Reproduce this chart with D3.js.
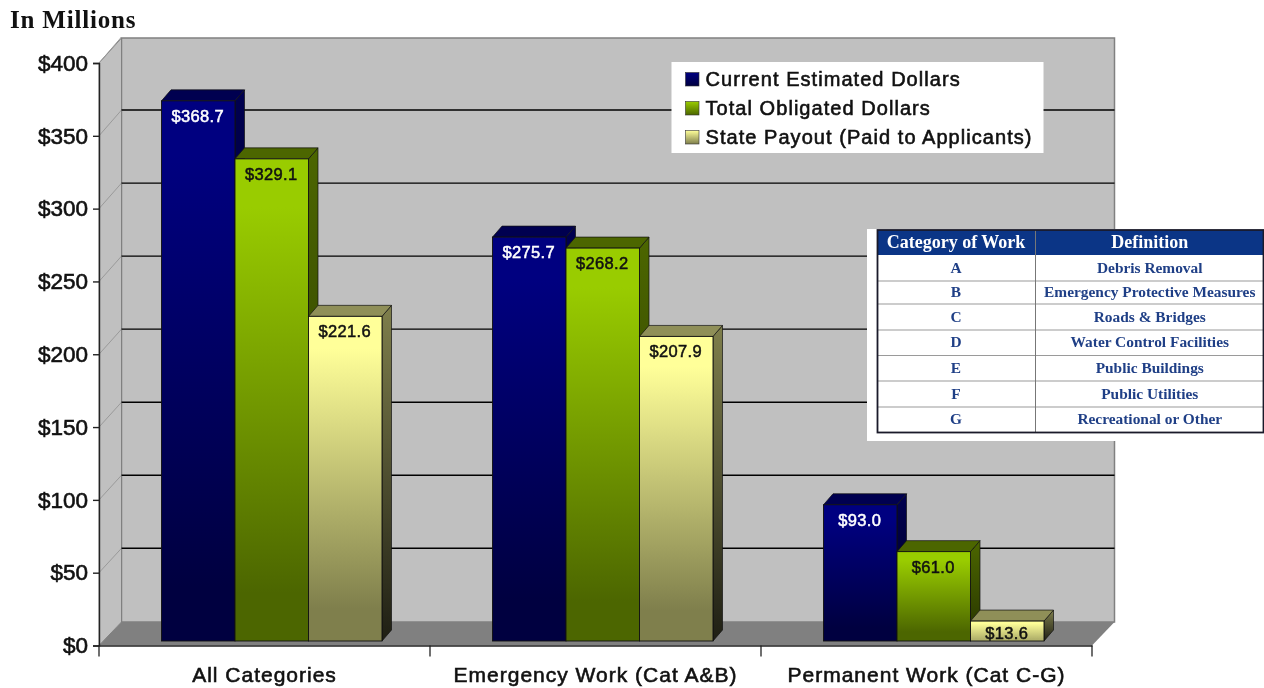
<!DOCTYPE html>
<html><head><meta charset="utf-8">
<script src="https://cdnjs.cloudflare.com/ajax/libs/d3/7.8.5/d3.min.js"></script>
<style>
html,body{margin:0;padding:0;background:#fff;overflow:hidden}
svg{display:block;filter:blur(.45px)}
text{font-family:"Liberation Sans",Arial,sans-serif}
.serif{font-family:"Liberation Serif","Times New Roman",serif;font-weight:bold}
</style></head><body>
<svg id="c" width="1264" height="688"></svg>
<script>
const categories=["All Categories","Emergency Work (Cat A&B)","Permanent Work (Cat C-G)"];
const seriesNames=["Current Estimated Dollars","Total Obligated Dollars","State Payout (Paid to Applicants)"];
const currentEstimated=[368.7,275.7,93.0];
const totalObligated=[329.1,268.2,61.0];
const statePayout=[221.6,207.9,13.6];
const yTicks=[0,50,100,150,200,250,300,350,400];
const tableHeader=["Category of Work","Definition"];
const workCodes=["A","B","C","D","E","F","G"];
const workDefinitions=["Debris Removal","Emergency Protective Measures","Roads & Bridges","Water Control Facilities","Public Buildings","Public Utilities","Recreational or Other"];
const seriesValues=[currentEstimated,totalObligated,statePayout];
const palette=[
 {top:"#000080",bot:"#000040",side:"#000050",sideBot:"#00001e",cap:"#000050",ink:"#fff"},
 {top:"#99cc00",bot:"#4c6600",side:"#4c6600",sideBot:"#263300",cap:"#4c6600",ink:"#111"},
 {top:"#ffff99",bot:"#7f7f4c",side:"#7f7f4c",sideBot:"#1f1f14",cap:"#8f8f58",ink:"#111"}];

const svg=d3.select("#c");
const defs=svg.append("defs");
const xFront=[99,1092], yFront=[645.5,63], yBack=[621.3,37], depthX=22.5;
const yF=d3.scaleLinear().domain([0,400]).range(yFront);
const yB=d3.scaleLinear().domain([0,400]).range(yBack);
const yBar=d3.scaleLinear().domain([0,400]).range([641,55]);
const x0=d3.scaleBand().domain(categories).range(xFront);
const x1=d3.scaleBand().domain(d3.range(3)).range([62.5,283]);

// walls
const wall="#c0c0c0";
svg.append("path").attr("d",`M${xFront[0]+depthX},38H${xFront[1]+depthX}V622H${xFront[0]+depthX}Z`).attr("fill",wall).attr("stroke","#808080").attr("stroke-width",1.5);
svg.append("path").attr("d",`M${xFront[0]},${yFront[1]}L${xFront[0]+depthX},38V622L${xFront[0]},${yFront[0]}Z`).attr("fill",wall).attr("stroke","#808080").attr("stroke-width",1);
svg.append("path").attr("d",`M${xFront[0]},${yFront[0]}L${xFront[0]+depthX},622H${xFront[1]+depthX}L${xFront[1]},${yFront[0]}Z`).attr("fill","#808080");
// gridlines
yTicks.filter(d=>d>0).forEach(d=>{
  svg.append("line").attr("x1",xFront[0]).attr("y1",yF(d)).attr("x2",xFront[0]+depthX).attr("y2",yB(d)).attr("stroke","#9a9a9a");
  if(d<400) svg.append("line").attr("x1",xFront[0]+depthX).attr("x2",xFront[1]+depthX).attr("y1",yB(d)).attr("y2",yB(d)).attr("stroke","#000").attr("stroke-width",1.4);
});

// bars
function grad(id,stops){
  const g=defs.append("linearGradient").attr("id",id).attr("x1",0).attr("y1",0).attr("x2",0).attr("y2",1);
  stops.forEach(s=>g.append("stop").attr("offset",s[0]).attr("stop-color",s[1]));
  return `url(#${id})`;
}
const dx=9.5, dy=11;
categories.forEach((cat,ci)=>{
  seriesValues.forEach((vals,si)=>{
    const v=vals[ci], p=palette[si];
    const xl=x0(cat)+x1(si), w=x1.bandwidth(), yt=yBar(v), yb=yBar(0);
    const g=svg.append("g").attr("class","bar");
    const sf=grad(`s${ci}${si}`,[[0,p.side],[1,p.sideBot]]);
    const mix=d3.interpolateRgb(p.top,p.bot);
    const ff=grad(`f${ci}${si}`,[[0,p.top],[0.1,p.top],[0.9,v<30?mix(.6):p.bot],[1,v<30?mix(.6):p.bot]]);
    g.append("path").attr("d",`M${xl+w},${yt}l${dx},${-dy}V${yb-dy}l${-dx},${dy}Z`).attr("fill",sf).attr("stroke","#111").attr("stroke-width",.7);
    g.append("path").attr("d",`M${xl},${yt}l${dx},${-dy}h${w}l${-dx},${dy}Z`).attr("fill",p.cap).attr("stroke","#111").attr("stroke-width",.7);
    g.append("rect").attr("x",xl).attr("y",yt).attr("width",w).attr("height",yb-yt).attr("fill",ff).attr("stroke","#111").attr("stroke-width",.9);
  });
});
categories.forEach((cat,ci)=>{
  seriesValues.forEach((vals,si)=>{
    const v=vals[ci], p=palette[si];
    svg.append("text").attr("x",x0(cat)+x1(si)+x1.bandwidth()/2-.5).attr("y",Math.min(yBar(v)+21,638.5))
      .attr("text-anchor","middle").attr("font-size",16.5).attr("fill",p.ink).style("letter-spacing",".35px")
      .attr("stroke",p.ink).attr("stroke-width",.5).text("$"+v.toFixed(1));
  });
});

// axes
const yAxis=d3.axisLeft(yF).tickValues(yTicks).tickSize(6).tickPadding(5).tickFormat(d=>"$"+d);
const ya=svg.append("g").attr("transform",`translate(${xFront[0]},0)`).call(yAxis);
ya.selectAll("text").attr("font-size",22.5).attr("fill","#111").attr("stroke","#111").attr("stroke-width",.6).style("font-family",'"Liberation Sans"');
ya.selectAll("path,line").attr("stroke","#222").attr("stroke-width",1.4);
const xAxis=d3.axisBottom(x0).tickSize(0).tickPadding(22);
const xa=svg.append("g").attr("transform",`translate(0,${yFront[0]})`).call(xAxis);
xa.selectAll("text").attr("font-size",21).attr("fill","#111").attr("stroke","#111").attr("stroke-width",.6).style("font-family",'"Liberation Sans"').style("letter-spacing","1px");
xa.select("path").attr("stroke","#222").attr("stroke-width",1.6);
const bounds=[...categories.map(c=>x0(c)),xFront[1]];
xa.selectAll("line.b").data(bounds).enter().append("line").attr("class","b").attr("x1",d=>d).attr("x2",d=>d).attr("y1",0).attr("y2",11).attr("stroke","#222").attr("stroke-width",1.3);

svg.append("text").attr("class","serif").attr("x",10).attr("y",28).attr("font-size",25).attr("fill","#111").style("letter-spacing",".8px").text("In Millions");

// legend
const lg=svg.append("g");
lg.append("rect").attr("x",671.5).attr("y",62).attr("width",372).attr("height",91).attr("fill","#fff");
const ly=d3.scalePoint().domain(d3.range(3)).range([79,137]);
seriesNames.forEach((n,i)=>{
  const p=palette[i];
  lg.append("rect").attr("x",685.5).attr("y",ly(i)-6.5).attr("width",13.5).attr("height",13.5)
    .attr("fill",grad(`l${i}`,[[0,p.top],[1,p.bot]])).attr("stroke","#333").attr("stroke-width",.6);
  lg.append("text").attr("x",705.5).attr("y",ly(i)+7).attr("font-size",20).attr("fill","#111").attr("stroke","#111").attr("stroke-width",.6).style("letter-spacing","1.05px").text(n);
});

// table
const navy="#0b3586", ink="#1f3f86";
const t=svg.append("g");
t.append("rect").attr("x",867).attr("y",229).attr("width",397).attr("height",212).attr("fill","#fff");
const tx=[877.5,1035.5,1264];
const rowEdges=[230,255,281,304,330,355.5,381,407,432.5];
t.append("rect").attr("x",tx[0]).attr("y",rowEdges[0]).attr("width",tx[2]-tx[0]).attr("height",rowEdges[1]-rowEdges[0]).attr("fill",navy);
rowEdges.slice(2,-1).forEach(y=>t.append("line").attr("x1",tx[0]).attr("x2",tx[2]).attr("y1",y).attr("y2",y).attr("stroke","#9a9a9a").attr("stroke-width",1.2));
t.append("line").attr("x1",tx[1]).attr("x2",tx[1]).attr("y1",rowEdges[0]).attr("y2",rowEdges[8]).attr("stroke","#777");
t.append("rect").attr("x",tx[0]).attr("y",rowEdges[0]).attr("width",tx[2]-tx[0]-.5).attr("height",rowEdges[8]-rowEdges[0]).attr("fill","none").attr("stroke","#1a1a2a").attr("stroke-width",1.8);
const cx=[(tx[0]+tx[1])/2-.5,(tx[1]+tx[2])/2];
tableHeader.forEach((h,i)=>t.append("text").attr("class","serif").attr("x",cx[i]).attr("y",248).attr("text-anchor","middle").attr("font-size",18).attr("fill","#fff").text(h));
workCodes.forEach((c,i)=>{
  const yy=(rowEdges[i+1]+rowEdges[i+2])/2+4.5;
  t.append("text").attr("class","serif").attr("x",cx[0]).attr("y",yy).attr("text-anchor","middle").attr("font-size",15.4).attr("fill",ink).text(c);
  t.append("text").attr("class","serif").attr("x",cx[1]).attr("y",yy).attr("text-anchor","middle").attr("font-size",15.4).attr("fill",ink).text(workDefinitions[i]);
});
</script></body></html>
